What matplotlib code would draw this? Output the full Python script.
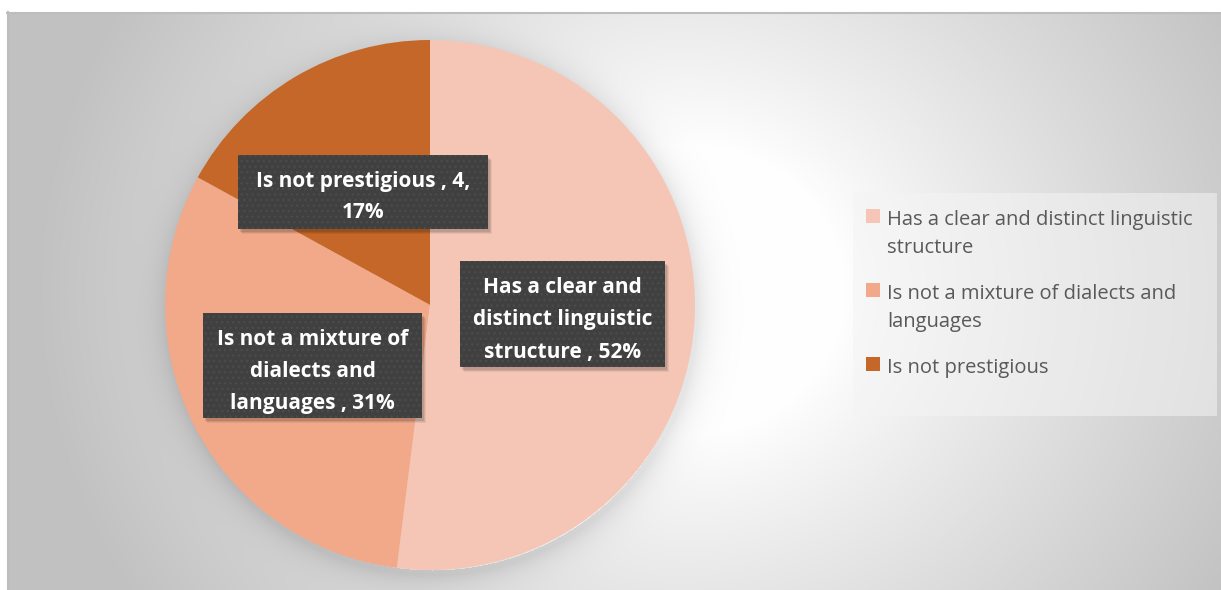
import numpy as np
import matplotlib
matplotlib.use("Agg")
import matplotlib.pyplot as plt
from matplotlib.patches import Rectangle

# ---- data ----
categories = ["Has a clear and distinct linguistic structure",
              "Is not a mixture of dialects and languages",
              "Is not prestigious"]
shares = [52, 31, 17]          # percent
counts = [None, None, 4]       # only the last label shows its count
colors = ["#F5C6B6", "#F1A98A", "#C56728"]

label_lines = [["Has a clear and", "distinct linguistic", "structure , 52%"],
               ["Is not a mixture of", "dialects and", "languages , 31%"],
               ["Is not prestigious , 4,", "17%"]]
legend_lines = [["Has a clear and distinct linguistic", "structure"],
                ["Is not a mixture of dialects and", "languages"],
                ["Is not prestigious"]]

W, H = 1221, 590
fig = plt.figure(figsize=(W / 100, H / 100), dpi=100)
fig.patch.set_facecolor("white")

# ---- background: radial grey gradient with a soft shadow under the pie ----
cx, cy, R = 430, 305, 265
x0, y0 = 7, 12
yy, xx = np.mgrid[y0:H, x0:W].astype(float)
r = np.hypot(xx - 680, (yy - 290) * 1.1)
bg = 1.0 - 0.24 * np.clip((r - 160) / 480, 0, 1) ** 0.9
d = np.hypot(xx - (cx + 2), yy - (cy + 5))
shadow = np.where(d > R - 5, 0.10 * np.exp(-np.clip(d - R, 0, None) / 14), 0)
bg = np.clip(bg - shadow, 0, 1)

ax_bg = fig.add_axes([0, 0, 1, 1], zorder=0)
ax_bg.set_xlim(0, W)
ax_bg.set_ylim(H, 0)
ax_bg.axis("off")
ax_bg.imshow(np.dstack([bg] * 3), extent=(x0, W, H, y0), interpolation="bilinear")
ax_bg.plot([x0, W], [y0 + 0.5, y0 + 0.5], color="#bdbdbd", lw=1.5)
ax_bg.plot([x0 + 0.5, x0 + 0.5], [y0, H], color="#bdbdbd", lw=1.5)

# ---- pie ----
ax_pie = fig.add_axes([(cx - R) / W, (H - cy - R) / H, 2 * R / W, 2 * R / H], zorder=1)
ax_pie.pie(shares, colors=colors, startangle=90, counterclock=False, radius=1,
           wedgeprops=dict(linewidth=0))
ax_pie.set_xlim(-1, 1)
ax_pie.set_ylim(-1, 1)
ax_pie.set_aspect("equal")
ax_pie.axis("off")

# ---- data labels and legend in pixel coordinates ----
ax = fig.add_axes([0, 0, 1, 1], zorder=2)
ax.set_xlim(0, W)
ax.set_ylim(H, 0)
ax.axis("off")
ax.patch.set_alpha(0)

# box (x, y, w, h), baseline of first line, line step
boxes = [(460, 261, 205, 106, 293, 32.3),
         (203, 313, 219, 105, 345, 31.8),
         (238, 155, 250, 74, 187.5, 31)]
for (bx, by, bw, bh, base, step), lines in zip(boxes, label_lines):
    for k, a in enumerate([0.10, 0.08, 0.06]):
        ax.add_patch(Rectangle((bx + 2 + k, by + 3 + k), bw, bh,
                               facecolor="black", alpha=a, lw=0))
    ax.add_patch(Rectangle((bx, by), bw, bh, facecolor="#404040",
                           edgecolor="#4b4b4b", lw=0, hatch="..."))
    for i, line in enumerate(lines):
        ax.text(bx + bw / 2, base + i * step, line, ha="center", va="baseline",
                color="white", fontsize=15, fontweight="bold", family="Open Sans")

ax.add_patch(Rectangle((853, 193), 364, 223, facecolor="#f4f4f4", alpha=0.55, lw=0))
legend_base = [225, 299, 373]
for col, lines, base in zip(colors, legend_lines, legend_base):
    ax.add_patch(Rectangle((866, base - 16), 14, 14, facecolor=col, lw=0))
    for i, line in enumerate(lines):
        ax.text(887, base + i * 28, line, ha="left", va="baseline", color="#595959",
                fontsize=14.5, family="Open Sans")

fig.savefig("out.png", dpi=100)
